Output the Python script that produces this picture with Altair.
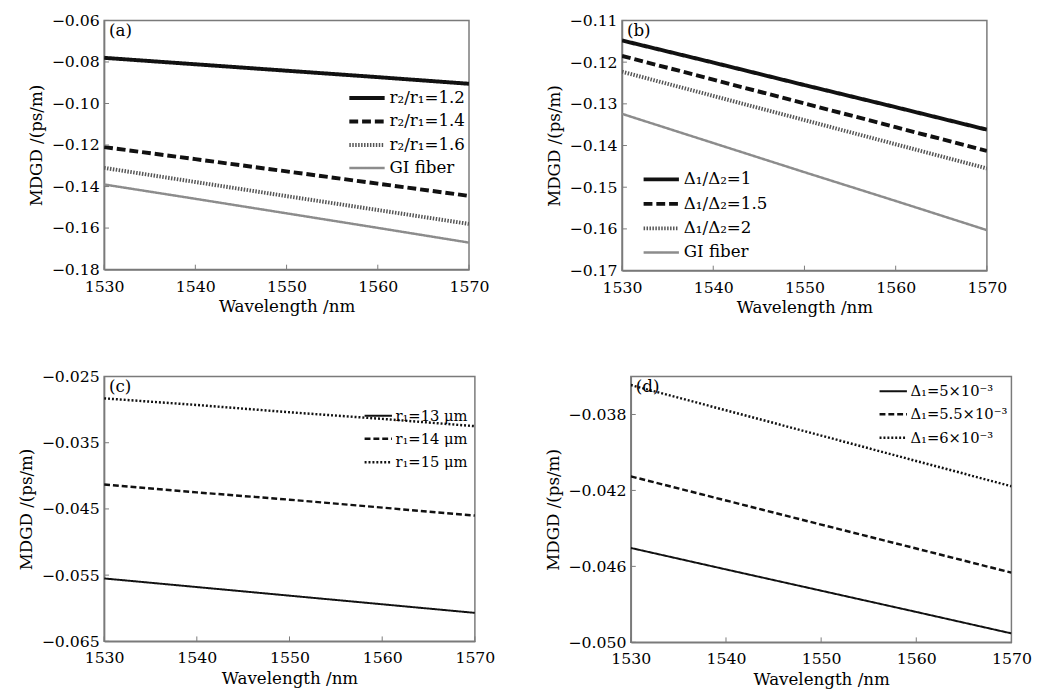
import altair as alt
import pandas as pd

FONT = "DejaVu Serif"
AXC = "#7a7a7a"

wl = [1530, 1540, 1550, 1560, 1570]
x_ticks = [1530, 1540, 1550, 1560, 1570]

a_names = ["r₂/r₁=1.2", "r₂/r₁=1.4", "r₂/r₁=1.6", "GI fiber"]
a_r12 = [-0.0780, -0.0811, -0.0842, -0.0873, -0.0905]
a_r14 = [-0.1210, -0.1268, -0.1327, -0.1386, -0.1445]
a_r16 = [-0.1310, -0.1378, -0.1446, -0.1513, -0.1580]
a_gi = [-0.1390, -0.1459, -0.1529, -0.1599, -0.1670]
a_yticks = [-0.18, -0.16, -0.14, -0.12, -0.10, -0.08, -0.06]

b_names = ["Δ₁/Δ₂=1", "Δ₁/Δ₂=1.5", "Δ₁/Δ₂=2", "GI fiber"]
b_1 = [-0.1148, -0.1201, -0.1255, -0.1308, -0.1362]
b_15 = [-0.1185, -0.1242, -0.1299, -0.1356, -0.1413]
b_2 = [-0.1223, -0.1281, -0.1339, -0.1397, -0.1455]
b_gi = [-0.1324, -0.1394, -0.1464, -0.1533, -0.1603]
b_yticks = [-0.17, -0.16, -0.15, -0.14, -0.13, -0.12, -0.11]

c_names = ["r₁=13 μm", "r₁=14 μm", "r₁=15 μm"]
c_13 = [-0.0555, -0.0568, -0.0581, -0.0594, -0.0607]
c_14 = [-0.0413, -0.0425, -0.0436, -0.0448, -0.0460]
c_15 = [-0.0283, -0.0293, -0.0304, -0.0314, -0.0325]
c_yticks = [-0.065, -0.055, -0.045, -0.035, -0.025]

d_names = ["Δ₁=5×10⁻³", "Δ₁=5.5×10⁻³", "Δ₁=6×10⁻³"]
d_5 = [-0.04503, -0.04616, -0.04728, -0.04840, -0.04953]
d_55 = [-0.04126, -0.04253, -0.04380, -0.04506, -0.04633]
d_6 = [-0.03645, -0.03778, -0.03911, -0.04045, -0.04178]
d_yticks = [-0.050, -0.046, -0.042, -0.038]


def long_df(names, arrays):
    rows = []
    for n, arr in zip(names, arrays):
        for w, v in zip(wl, arr):
            rows.append({"wl": w, "v": v, "s": n})
    return pd.DataFrame(rows)


def spacer(x, y):
    # invisible 1px rule that reserves layout room around a panel
    return alt.Chart(pd.DataFrame({"t": [0]})).mark_rule(opacity=0).encode(
        x=alt.value(x), x2=alt.value(x + 1), y=alt.value(y), y2=alt.value(y + 1))


def panel(names, arrays, colors, dashes, widths, ydom, yvals, yfmt, tag,
          lx, ly, W, H, sympath, laboff, lfs, rowpad, spacers):
    df = long_df(names, arrays)
    xs = alt.Scale(domain=[1530, 1570], nice=False)
    ys = alt.Scale(domain=ydom, nice=False, zero=False)
    xax = alt.Axis(values=x_ticks, format="d", title="Wavelength /nm",
                   ticks=False, grid=False, labelFlush=False, labelPadding=9,
                   titlePadding=5)
    yax = alt.Axis(values=yvals, format=yfmt, title="MDGD /(ps/m)",
                   ticks=False, grid=False, labelFlush=False)
    leg = alt.Legend(orient="none", legendX=lx, legendY=ly, title=None,
                     symbolType=sympath, symbolSize=324,
                     labelFont=FONT, labelFontSize=lfs, labelColor="black",
                     rowPadding=rowpad, labelOffset=laboff, padding=0)
    lines = alt.Chart(df).mark_line(clip=True).encode(
        x=alt.X("wl:Q", scale=xs, axis=xax),
        y=alt.Y("v:Q", scale=ys, axis=yax),
        color=alt.Color("s:N", scale=alt.Scale(domain=names, range=colors), legend=leg),
        strokeDash=alt.StrokeDash("s:N", scale=alt.Scale(domain=names, range=dashes), legend=leg),
        strokeWidth=alt.StrokeWidth("s:N", scale=alt.Scale(type="ordinal", domain=names, range=widths),
                                    legend=leg),
    )
    xt = alt.Chart(pd.DataFrame({"t": x_ticks})).mark_rule(color=AXC, strokeWidth=1).encode(
        x=alt.X("t:Q", scale=xs), y=alt.value(H), y2=alt.value(H - 5))
    yt = alt.Chart(pd.DataFrame({"t": yvals})).mark_rule(color=AXC, strokeWidth=1).encode(
        y=alt.Y("t:Q", scale=ys), x=alt.value(0), x2=alt.value(5))
    lab = alt.Chart(pd.DataFrame({"t": [tag]})).mark_text(
        align="left", baseline="top", font=FONT, fontSize=17, color="black").encode(
        x=alt.value(5), y=alt.value(3), text="t:N")
    layers = [lines, xt, yt, lab] + [spacer(x, y) for x, y in spacers]
    return alt.layer(*layers).properties(width=W, height=H)


thick = [4, 4, 4, 2.5]
BIG = "M-2,0H2"
SMALL = "M-1.55,0H1.55"
pa = panel(a_names, [a_r12, a_r14, a_r16, a_gi],
           ["#111111", "#111111", "#555555", "#8c8c8c"],
           [[1, 0], [9, 4], [1.5, 1.5], [1, 0]], thick,
           [-0.18, -0.06], a_yticks, ".2f", "(a)", 257, 68, 372, 254, BIG, 12, 17, 5,
           [(-97, 100), (372 + 30, 100), (100, 254 + 60)])
pb = panel(b_names, [b_1, b_15, b_2, b_gi],
           ["#111111", "#111111", "#555555", "#8c8c8c"],
           [[1, 0], [9, 4], [1.5, 1.5], [1, 0]], thick,
           [-0.17, -0.11], b_yticks, ".2f", "(b)", 29, 151, 372, 255, BIG, 12, 17, 6,
           [(-100, 100)])
pc = panel(c_names, [c_13, c_14, c_15],
           ["#111111", "#111111", "#111111"],
           [[1, 0], [6, 3], [2, 2]], [2, 2.5, 2.5],
           [-0.065, -0.025], c_yticks, ".3f", "(c)", 269, 30, 378, 270, SMALL, 7, 15, 5,
           [(-91, 100), (378 + 30, 100), (100, -20)])
pd_ = panel(d_names, [d_5, d_55, d_6],
            ["#111111", "#111111", "#111111"],
            [[1, 0], [6, 3], [2, 2]], [2, 2.5, 2.5],
            [-0.050, -0.036], d_yticks, ".3f", "(d)", 257, 5, 388, 271, SMALL, 7, 15, 5,
            [(-100, 100)])

res = dict(color="independent", strokeDash="independent", strokeWidth="independent",
           x="independent", y="independent")
lres = dict(color="independent", strokeDash="independent", strokeWidth="independent")
row1 = alt.hconcat(pa, pb, spacing=23).resolve_scale(**res).resolve_legend(**lres)
row2 = alt.hconcat(pc, pd_, spacing=26).resolve_scale(**res).resolve_legend(**lres)
chart = alt.vconcat(row1, row2, spacing=26).resolve_scale(**res).resolve_legend(**lres
).configure_view(stroke=AXC, strokeWidth=1.5).configure_axis(
    domainColor=AXC, domainWidth=1.5, labelFont=FONT, labelFontSize=16, labelColor="black",
    titleFont=FONT, titleFontSize=17, titleFontWeight="normal", titleColor="black",
    labelPadding=5, titlePadding=6
).properties(padding={"left": 0, "top": -3, "right": 0, "bottom": 0}, background="white")

chart.save("out.html", embed_options={"renderer": "svg", "actions": False})
